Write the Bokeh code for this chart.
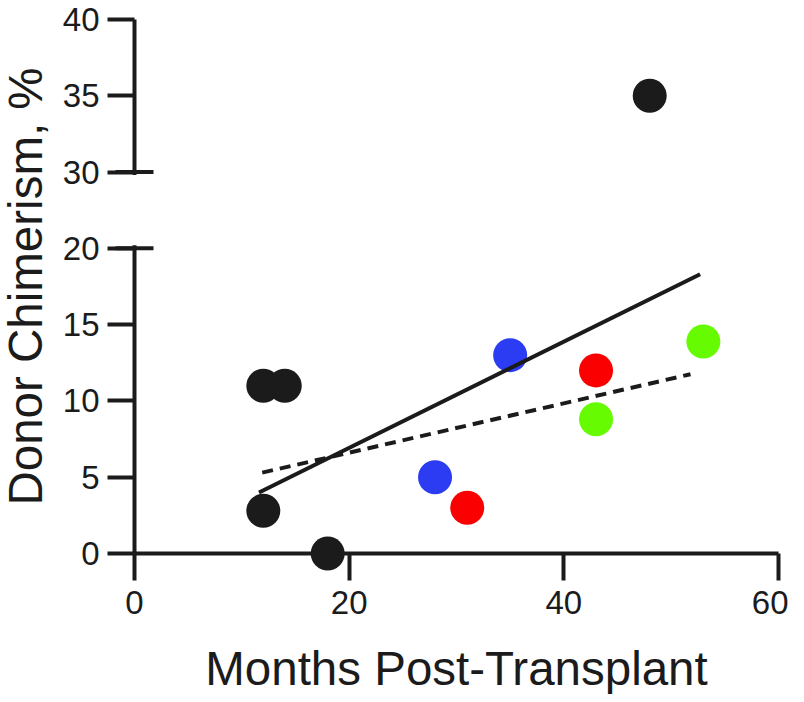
from bokeh.plotting import figure
from bokeh.models import FixedTicker, BoxAnnotation
from bokeh.embed import file_html
from bokeh.resources import INLINE

# ---------------- data ----------------
black_x = [12, 14, 12, 18, 48]
black_y = [11, 11, 2.8, 0, 35]
blue_x = [28, 35]
blue_y = [5, 13]
red_x = [31, 43]
red_y = [3, 12]
green_x = [43, 53]
green_y = [8.8, 13.9]

solid_fit_x = [11.6, 52.7]
solid_fit_y = [4.0, 18.3]
dashed_fit_x = [11.9, 51.8]
dashed_fit_y = [5.3, 11.75]

x_ticks = [0, 20, 40, 60]
y_ticks = [0, 5, 10, 15, 20, 30, 35, 40]

# broken axis: 20 .. 30 is compressed into a gap of 5 units
BREAK_LO, BREAK_HI, GAP = 20, 30, 5
X_MIN, X_MAX = 0, 60
Y_MIN, Y_MAX = 0, 40


def fold(v):
    return v if v <= BREAK_LO else v - (BREAK_HI - BREAK_LO) + GAP


def fold_all(vals):
    return [fold(v) for v in vals]


# ---------------- layout ----------------
W, H = 788, 694
X0_PX = 134          # canvas x of the y axis
Y0_PX = 553          # canvas y of the x axis
SX = 644 / (X_MAX - X_MIN)
SY = 534 / (fold(Y_MAX) - Y_MIN)
x_rng = (X_MIN - X0_PX / SX, X_MIN + (W - X0_PX) / SX)
y_rng = (Y_MIN - (H - Y0_PX) / SY, Y_MIN + Y0_PX / SY)

DARK = "#1b1b1b"
BLUE = "#2b3cf2"
RED = "#fa0000"
GREEN = "#66fb00"
FONT = "Liberation Sans"

p = figure(width=W, height=H, x_range=x_rng, y_range=y_rng,
           output_backend="svg", toolbar_location=None,
           min_border_left=0, min_border_right=0, min_border_top=0, min_border_bottom=0)
p.outline_line_color = None
p.grid.visible = False
p.background_fill_color = "white"
p.border_fill_color = "white"

for ax in (p.xaxis[0], p.yaxis[0]):
    ax.axis_line_width = 4
    ax.axis_line_color = DARK
    ax.major_tick_line_width = 4
    ax.major_tick_line_color = DARK
    ax.major_tick_out = 27
    ax.major_tick_in = 0
    ax.minor_tick_line_color = None
    ax.major_label_text_font = FONT
    ax.major_label_text_font_size = "33px"
    ax.major_label_text_color = DARK
    ax.axis_label_text_font = FONT
    ax.axis_label_text_font_size = "47.5px"
    ax.axis_label_text_font_style = "normal"
    ax.axis_label_text_color = DARK

xa = p.xaxis[0]
xa.fixed_location = Y_MIN
xa.bounds = (X_MIN, X_MAX)
xa.ticker = FixedTicker(ticks=x_ticks)
xa.axis_label = "Months Post-Transplant"
xa.major_label_standoff = 10
xa.axis_label_standoff = 25

ya = p.yaxis[0]
ya.fixed_location = X_MIN
ya.bounds = (Y_MIN, fold(Y_MAX))
ya.ticker = FixedTicker(ticks=fold_all(y_ticks))
ya.major_label_overrides = {fold(t): str(t) for t in y_ticks}
ya.axis_label = "Donor Chimerism, %"
ya.major_label_standoff = 8
ya.axis_label_standoff = 8

# gap in the y axis line
p.add_layout(BoxAnnotation(left=X_MIN - 0.6, right=X_MIN + 0.45,
                           bottom=fold(BREAK_LO) + 0.2, top=fold(BREAK_HI) - 0.2,
                           fill_color="white", fill_alpha=1.0, line_color=None))
# break marks (ticks reaching inside)
p.scatter(x=[X_MIN, X_MIN], y=[fold(BREAK_LO), fold(BREAK_HI)], marker="dash",
          size=38, line_width=4, line_color=DARK)

for xs, ys, col in ((black_x, black_y, DARK), (blue_x, blue_y, BLUE),
                    (red_x, red_y, RED), (green_x, green_y, GREEN)):
    p.scatter(x=xs, y=fold_all(ys), size=34, fill_color=col, line_color=None)

p.line(solid_fit_x, fold_all(solid_fit_y), line_width=4, line_color=DARK)
p.line(dashed_fit_x, fold_all(dashed_fit_y), line_width=4, line_color=DARK,
       line_dash="11 7")

open("out.html", "w").write(file_html(p, INLINE))
